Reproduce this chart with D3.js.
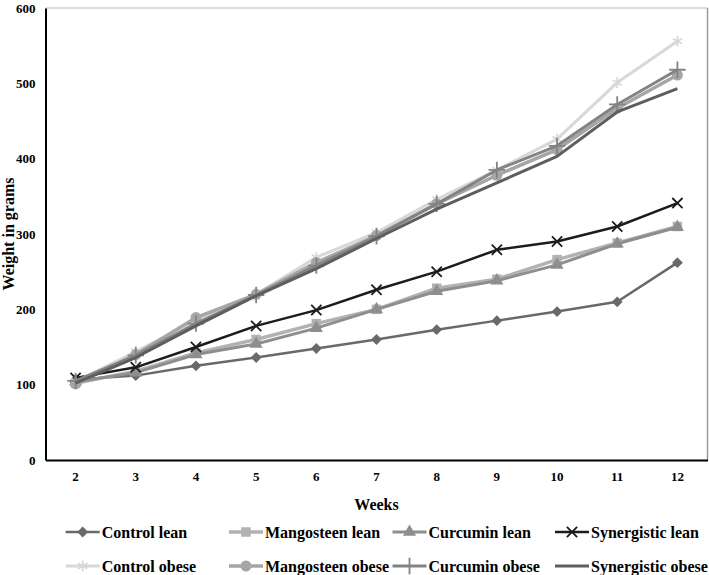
<!DOCTYPE html>
<html>
<head>
<meta charset="utf-8">
<script src="https://cdn.jsdelivr.net/npm/d3@7"></script>
<style>
  html, body { margin: 0; padding: 0; background: #fff; }
  svg { display: block; font-family: "Liberation Serif", "Times New Roman", serif; font-weight: bold; }
</style>
</head>
<body>
<svg id="chart" width="709" height="575"></svg>
<script>
const weeks = [2, 3, 4, 5, 6, 7, 8, 9, 10, 11, 12];
const yTicks = [0, 100, 200, 300, 400, 500, 600];

const controlLean      = [107, 112, 125, 136, 148, 160, 173, 185, 197, 210, 262];
const mangosteenLean   = [102, 118, 142, 160, 181, 200, 228, 240, 266, 288, 310];
const curcuminLean     = [104, 116, 140, 154, 175, 200, 224, 238, 259, 287, 309];
const synergisticLean  = [109, 123, 150, 178, 199, 226, 250, 279, 290, 310, 341];
const controlObese     = [104, 144, 185, 220, 269, 302, 346, 385, 426, 501, 556];
const mangosteenObese  = [101, 140, 189, 220, 262, 298, 340, 378, 412, 467, 511];
const curcuminObese    = [105, 139, 181, 219, 258, 297, 340, 385, 417, 472, 518];
const synergisticObese = [102, 136, 178, 218, 254, 294, 333, 368, 403, 462, 493];

const seriesNames = ["Control lean", "Mangosteen lean", "Curcumin lean", "Synergistic lean",
                     "Control obese", "Mangosteen obese", "Curcumin obese", "Synergistic obese"];
const seriesValues = [controlLean, mangosteenLean, curcuminLean, synergisticLean,
                      controlObese, mangosteenObese, curcuminObese, synergisticObese];

const styles = [
  { color: "#696969", width: 2.5, symbol: d3.symbolDiamond2, size: 75, fill: true },
  { color: "#b2b2b2", width: 3.5, symbol: d3.symbolSquare, size: 90, fill: true },
  { color: "#8e8e8e", width: 3,   symbol: d3.symbolTriangle, size: 75, fill: true },
  { color: "#1c1c1c", width: 2.5, symbol: d3.symbolX, size: 70, fill: false },
  { color: "#d8d8d8", width: 3,   symbol: d3.symbolAsterisk, size: 80, fill: false },
  { color: "#a6a6a6", width: 3.5, symbol: d3.symbolCircle, size: 95, fill: true },
  { color: "#838383", width: 3,   symbol: d3.symbolPlus, size: 90, fill: false },
  { color: "#5e5e5e", width: 3,   symbol: null, size: 0, fill: false }
];

const svg = d3.select("#chart");
const plotLeft = 45.5, plotRight = 707.5, plotTop = 8, plotBottom = 460;

const x = d3.scaleBand().domain(weeks).range([plotLeft, plotRight]);
const y = d3.scaleLinear().domain([0, 600]).range([plotBottom, plotTop]);
const cx = w => x(w) + x.bandwidth() / 2;

// frame: grey top/right, black left/bottom
svg.append("line").attr("x1", plotLeft).attr("x2", plotRight).attr("y1", plotTop).attr("y2", plotTop)
  .attr("stroke", "#bdbdbd").attr("stroke-width", 1);
svg.append("line").attr("x1", plotRight).attr("x2", plotRight).attr("y1", plotTop).attr("y2", plotBottom)
  .attr("stroke", "#9a9a9a").attr("stroke-width", 1.5);

// axes
const yAxis = d3.axisLeft(y).tickValues(yTicks).tickSize(0).tickPadding(10);
const gy = svg.append("g").attr("transform", `translate(${plotLeft},0)`).call(yAxis);
gy.select(".domain").attr("stroke", "#000").attr("stroke-width", 2);
gy.selectAll("text").attr("font-size", 13).attr("font-family", "Liberation Serif").attr("font-weight", "bold").attr("fill", "#000");

const xAxis = d3.axisBottom(x).tickSize(0).tickPadding(12);
const gx = svg.append("g").attr("transform", `translate(0,${plotBottom})`).call(xAxis);
gx.select(".domain").attr("stroke", "#000").attr("stroke-width", 2);
gx.selectAll("text").attr("font-size", 13).attr("font-family", "Liberation Serif").attr("font-weight", "bold").attr("fill", "#000");

// titles
svg.append("text").attr("x", (plotLeft + plotRight) / 2).attr("y", 510)
  .attr("text-anchor", "middle").attr("font-size", 16).text("Weeks");
svg.append("text").attr("transform", `translate(14,${(plotTop + plotBottom) / 2}) rotate(-90)`)
  .attr("text-anchor", "middle").attr("font-size", 16).text("Weight in grams");

// series
const line = d3.line().x((d, i) => cx(weeks[i])).y(d => y(d));
seriesValues.forEach((vals, k) => {
  const s = styles[k];
  const g = svg.append("g");
  g.append("path").datum(vals).attr("d", line).attr("fill", "none")
    .attr("stroke", s.color).attr("stroke-width", s.width).attr("stroke-linejoin", "round");
  if (s.symbol) {
    g.selectAll("path.m").data(vals).join("path").attr("class", "m")
      .attr("transform", (d, i) => `translate(${cx(weeks[i])},${y(d)})`)
      .attr("d", d3.symbol().type(s.symbol).size(s.size))
      .attr("fill", s.fill ? s.color : "none")
      .attr("stroke", s.color).attr("stroke-width", s.fill ? 0 : 1.8);
  }
});

// legend
const colX = [101.7, 265, 428.5, 591];
const rowY = [532, 566];
seriesNames.forEach((name, k) => {
  const s = styles[k];
  const lx = colX[k % 4], ly = rowY[Math.floor(k / 4)];
  const g = svg.append("g");
  g.append("line").attr("x1", lx - 36).attr("x2", lx - 2).attr("y1", ly).attr("y2", ly)
    .attr("stroke", s.color).attr("stroke-width", s.width);
  if (s.symbol) {
    g.append("path").attr("transform", `translate(${lx - 19},${ly})`)
      .attr("d", d3.symbol().type(s.symbol).size(s.size))
      .attr("fill", s.fill ? s.color : "none")
      .attr("stroke", s.color).attr("stroke-width", s.fill ? 0 : 1.8);
  }
  g.append("text").attr("x", lx).attr("y", ly).attr("dy", "0.35em")
    .attr("font-size", 16).attr("fill", "#000").text(name);
});
</script>
</body>
</html>
